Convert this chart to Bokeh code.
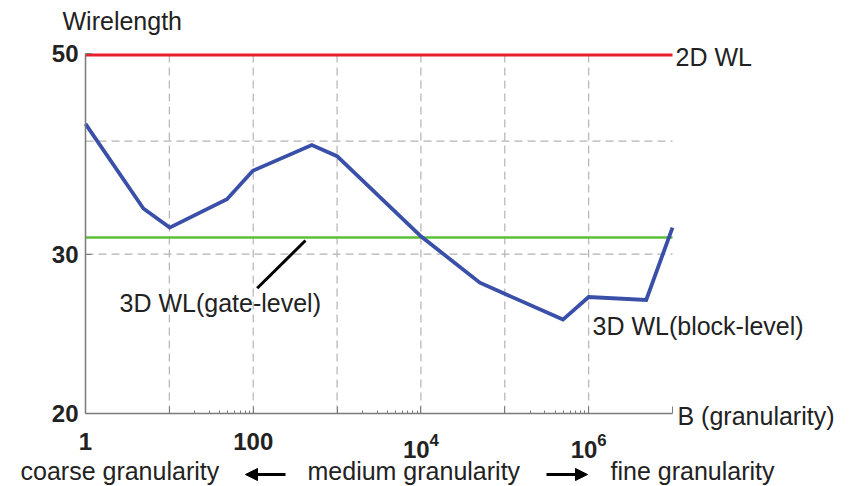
import numpy as np
from bokeh.plotting import figure
from bokeh.models import (FixedTicker, LogTickFormatter, PrintfTickFormatter, Label,
                          Arrow, NormalHead, Range1d)
from bokeh.embed import file_html
from bokeh.resources import INLINE

# ---- data ----
granularity = [1, 4.9, 10.1, 48.6, 99, 500, 1000, 1e4, 5.04e4, 4.94e5, 1e6, 4.86e6, 1e7]
wl_block = [41.8, 33.7, 32.1, 34.5, 37.1, 39.6, 38.5, 31.4, 27.9, 25.4, 26.9, 26.7, 32.1]
wl_2d = 49.8
wl_gate = 31.3
x_ticks = [1, 10, 100, 1e3, 1e4, 1e5, 1e6, 1e7]
x_labelled = [1, 100, 1e4, 1e6]
x_minor = [20, 30, 40, 50, 60, 70, 80, 90,
           2e3, 3e3, 4e3, 5e3, 6e3, 7e3, 8e3, 9e3,
           2e5, 3e5, 4e5, 5e5, 6e5, 7e5, 8e5, 9e5]
x_grid = [10, 100, 1e3, 1e4, 1e5, 1e6]
y_ticks = [20, 30, 50]
y_grid = [30, 40]
X_MIN, X_MAX = 1, 1e7
Y_MIN, Y_MAX = 20, 50

FONT = "Liberation Sans"
W, H = 850, 486

# where the axes' ends sit on the page (px)
L, R, T, B = 85, 672, 53, 413

def dx(px):
    lo, hi = np.log10(X_MIN), np.log10(X_MAX)
    return 10 ** (lo + (px - L) / (R - L) * (hi - lo))

def dy(py):
    lo, hi = np.log10(Y_MIN), np.log10(Y_MAX)
    return 10 ** (lo + (B - py) / (B - T) * (hi - lo))

# the frame covers the whole canvas so that outside texts are not clipped
p = figure(x_axis_type="log", y_axis_type="log",
           x_range=Range1d(dx(0), dx(W)), y_range=Range1d(dy(H), dy(0)),
           frame_width=W, frame_height=H,
           min_border_left=0, min_border_top=0,
           min_border_right=0, min_border_bottom=0,
           toolbar_location=None, output_backend="svg",
           outline_line_color=None, background_fill_color="white")
p.xgrid.visible = False
p.ygrid.visible = False

GRID = dict(line_color="#b4b4b4", line_dash="8 5", line_width=1.2)
p.segment(x0=x_grid, y0=[Y_MIN] * len(x_grid), x1=x_grid, y1=[Y_MAX] * len(x_grid), **GRID)
p.segment(x0=[X_MIN] * len(y_grid), y0=y_grid, x1=[X_MAX] * len(y_grid), y1=y_grid, **GRID)

# x axis
xa = p.xaxis[0]
xa.fixed_location = Y_MIN
xa.bounds = (X_MIN, X_MAX)
xa.ticker = FixedTicker(ticks=x_ticks, minor_ticks=x_minor)
xa.formatter = LogTickFormatter(min_exponent=3)
xa.major_label_overrides = {t: "" for t in x_ticks if t not in x_labelled}
xa.major_tick_in = 7
xa.major_tick_out = 0
xa.minor_tick_in = 3
xa.minor_tick_out = 0
xa.major_label_standoff = 19
xa.major_label_text_font = FONT
xa.major_label_text_font_style = "bold"
xa.major_label_text_font_size = "24px"
xa.major_label_text_color = "#222222"

# y axis
ya = p.yaxis[0]
ya.fixed_location = X_MIN
ya.bounds = (Y_MIN, Y_MAX)
ya.ticker = FixedTicker(ticks=y_ticks, minor_ticks=[])
ya.formatter = PrintfTickFormatter(format="%d")
ya.major_tick_in = 6
ya.major_tick_out = 0
ya.major_label_standoff = 7
ya.major_label_text_font = FONT
ya.major_label_text_font_style = "bold"
ya.major_label_text_font_size = "24px"
ya.major_label_text_color = "#222222"

for ax in (xa, ya):
    ax.axis_line_color = "#7a7a7a"
    ax.axis_line_width = 1.5
    ax.major_tick_line_color = "#7a7a7a"
    ax.minor_tick_line_color = "#7a7a7a"

# reference lines
p.line([X_MIN, X_MAX], [wl_2d, wl_2d], line_color="#e8202a", line_width=3)
p.line([X_MIN, X_MAX], [wl_gate, wl_gate], line_color="#5cbf3a", line_width=2.5)

# block-level curve
p.line(granularity, wl_block, line_color="#3a4fa8", line_width=3.8, line_join="miter")

# pointer for gate-level label
p.line([dx(256.7), dx(305)], [dy(287.7), dy(240)], line_color="black", line_width=3)

def lab(text, px, py, size="25px", align="left"):
    p.add_layout(Label(x=dx(px), y=dy(py - 10), text=text, text_font=FONT,
                       text_font_size=size, text_color="#222222",
                       text_align=align, text_baseline="alphabetic"))

lab("Wirelength", 62, 30)
lab("2D WL", 675, 66)
lab("3D WL(gate-level)", 119, 312)
lab("3D WL(block-level)", 592, 335)
lab("B (granularity)", 677, 425)
lab("coarse granularity", 20, 480)
lab("medium granularity", 307, 480)
lab("fine granularity", 610, 480)

for x0, x1 in ((285, 245), (546, 587)):
    p.add_layout(Arrow(end=NormalHead(size=12, fill_color="black", line_color="black"),
                       x_start=dx(x0), y_start=dy(474), x_end=dx(x1), y_end=dy(474),
                       line_color="black", line_width=3))

open("out.html", "w").write(file_html(p, INLINE))
